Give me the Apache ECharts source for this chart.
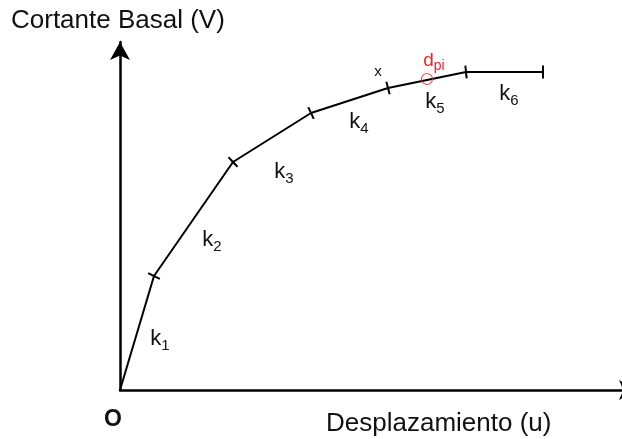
<!DOCTYPE html>
<html>
<head>
<meta charset="utf-8">
<script src="https://cdn.jsdelivr.net/npm/echarts@6/dist/echarts.min.js"></script>
<style>
  html, body { margin: 0; padding: 0; background: #fff; }
  #main { width: 622px; height: 439px; }
</style>
</head>
<body>
<div id="main"></div>
<script>
// capacity curve, break points (displacement, base shear), arbitrary units
var curveX = [0, 34, 113, 191, 268, 346, 423]
var curveY = [0, 114, 228, 277, 302, 318, 318]
var stiffLabels = ['1', '2', '3', '4', '5', '6']
var dpiPoint = [307, 311]

var FONT = '"Liberation Sans", Arial, sans-serif'

var chartDom = document.getElementById('main')
var myChart = echarts.init(chartDom)

var pts = curveX.map(function (x, i) { return [x, curveY[i]] })

// k_i labels (pixel placement)
var kPos = [[160, 337], [212, 238], [284, 170], [359, 120], [435, 100], [509, 92]]
var kText = stiffLabels.map(function (s, i) {
  return {
    type: 'text',
    x: kPos[i][0],
    y: kPos[i][1],
    style: {
      text: '{a|k}{b|' + s + '}',
      align: 'center',
      verticalAlign: 'middle',
      rich: {
        a: { fontSize: 22, fontFamily: FONT, fill: '#111', verticalAlign: 'bottom', lineHeight: 26 },
        b: { fontSize: 15, fontFamily: FONT, fill: '#111', verticalAlign: 'bottom', lineHeight: 26, padding: [0, 0, -3, 0] }
      }
    }
  }
})

var option = {
  animation: false,
  // x axis runs past the right edge so its arrow head is cut, as in the original
  grid: { left: 120, right: -15, top: 42, bottom: 49, outerBoundsMode: 'none' },
  xAxis: {
    type: 'value',
    min: 0,
    max: 517,
    axisLine: {
      show: true,
      symbol: ['none', 'arrow'],
      symbolSize: [15, 18],
      lineStyle: { color: '#000', width: 2.5 }
    },
    axisTick: { show: false },
    axisLabel: { show: false },
    splitLine: { show: false }
  },
  yAxis: {
    type: 'value',
    min: 0,
    max: 348,
    axisLine: {
      show: true,
      symbol: ['none', 'arrow'],
      symbolSize: [15, 18],
      lineStyle: { color: '#000', width: 2.5 }
    },
    axisTick: { show: false },
    axisLabel: { show: false },
    splitLine: { show: false }
  },
  graphic: [
    { type: 'text', x: 11, y: 21, style: { text: 'Cortante Basal (V)', fontSize: 26, fontFamily: FONT, fill: '#111', verticalAlign: 'middle' } },
    { type: 'text', x: 326, y: 424, style: { text: 'Desplazamiento (u)', fontSize: 26, fontFamily: FONT, fill: '#111', verticalAlign: 'middle' } },
    { type: 'text', x: 113, y: 420, style: { text: 'O', fontSize: 23, fontWeight: 'bold', fontFamily: FONT, fill: '#111', align: 'center', verticalAlign: 'middle' } },
    { type: 'text', x: 378, y: 72, style: { text: 'x', fontSize: 15, fontFamily: FONT, fill: '#111', align: 'center', verticalAlign: 'middle' } },
    {
      type: 'text', x: 434, y: 58,
      style: {
        text: '{a|d}{b|pi}',
        align: 'center',
        verticalAlign: 'middle',
        rich: {
          a: { fontSize: 19, fontFamily: FONT, fill: '#f02828', verticalAlign: 'bottom', lineHeight: 24 },
          b: { fontSize: 14, fontFamily: FONT, fill: '#f02828', verticalAlign: 'bottom', lineHeight: 24, padding: [0, 0, -3, 0] }
        }
      }
    }
  ].concat(kText),
  series: [
    {
      type: 'line',
      data: pts,
      symbol: 'none',
      lineStyle: { color: '#000', width: 2 },
      z: 3
    },
    {
      // short perpendicular marks at every break point
      type: 'custom',
      data: pts.slice(1).map(function (p, i) { return [p[0], p[1], i + 1] }),
      renderItem: function (params, api) {
        var i = api.value(2)
        var c = api.coord(pts[i])
        var dx = 0, dy = 0
        var a = api.coord(pts[i - 1])
        var l1 = Math.hypot(c[0] - a[0], c[1] - a[1])
        dx += (c[0] - a[0]) / l1
        dy += (c[1] - a[1]) / l1
        if (i < pts.length - 1) {
          var b = api.coord(pts[i + 1])
          var l2 = Math.hypot(b[0] - c[0], b[1] - c[1])
          dx += (b[0] - c[0]) / l2
          dy += (b[1] - c[1]) / l2
        }
        var l = Math.hypot(dx, dy)
        var nx = -dy / l * 6.5, ny = dx / l * 6.5
        return {
          type: 'line',
          shape: { x1: c[0] - nx, y1: c[1] - ny, x2: c[0] + nx, y2: c[1] + ny },
          style: { stroke: '#000', lineWidth: 2 }
        }
      },
      z: 4
    },
    {
      type: 'scatter',
      data: [dpiPoint],
      symbol: 'circle',
      symbolSize: 11,
      itemStyle: { color: 'rgba(0,0,0,0)', borderColor: '#f02828', borderWidth: 1.2 },
      z: 5
    }
  ]
}

option && myChart.setOption(option)
</script>
</body>
</html>
